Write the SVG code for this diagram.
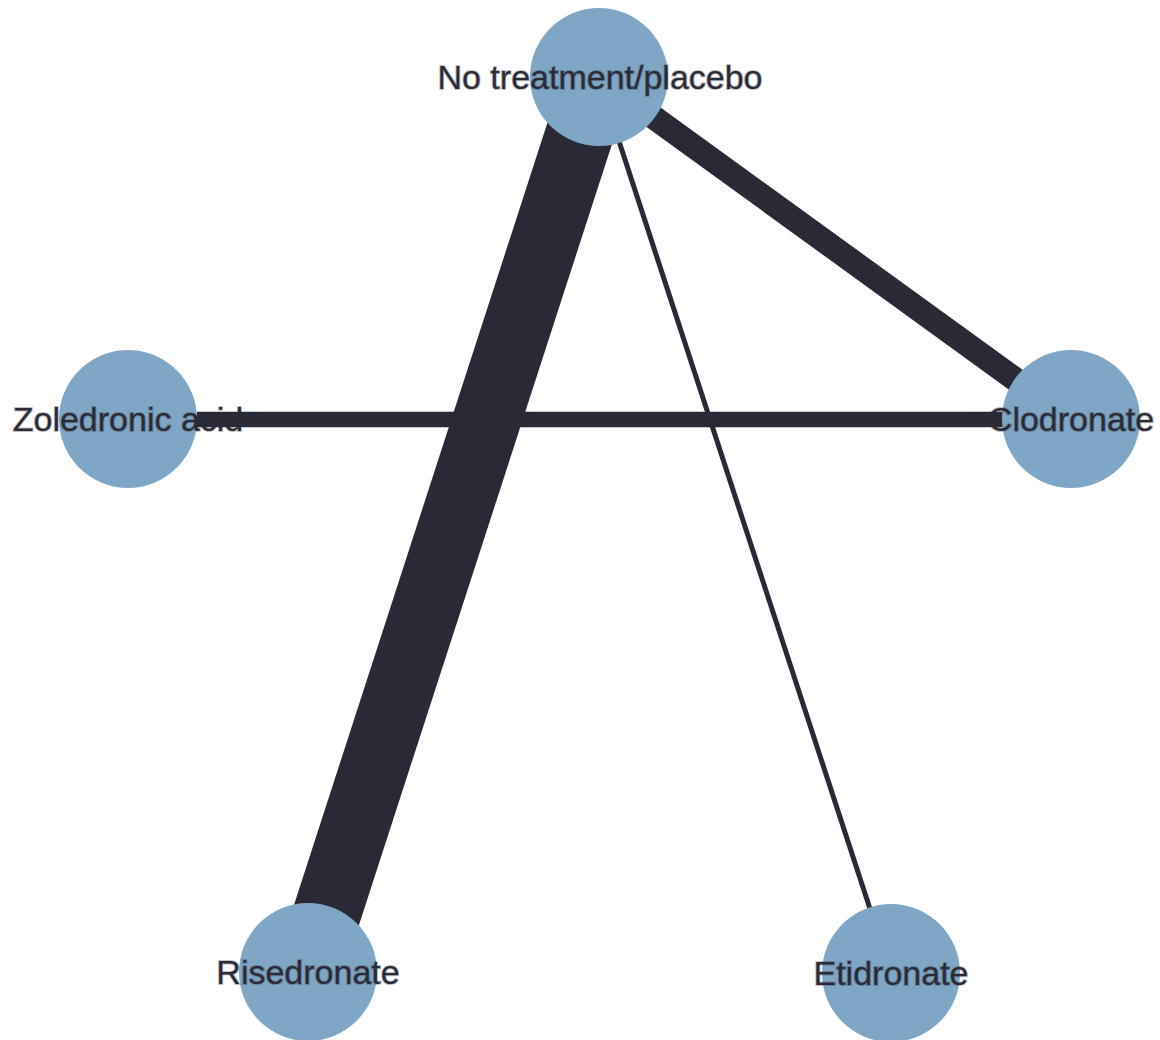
<svg xmlns="http://www.w3.org/2000/svg" width="1160" height="1040" viewBox="0 0 1160 1040">
<style>
.edge{stroke:#292a35;stroke-linecap:butt;fill:none}
.node circle{fill:#80a6c5}
.node text{font-family:"Liberation Sans",Arial,sans-serif;font-size:34px;fill:#2a2b36;text-anchor:middle;dominant-baseline:central;stroke:#2a2b36;stroke-opacity:0.3;stroke-width:2;paint-order:stroke}
</style>
<rect width="1160" height="1040" fill="#ffffff"/>
<g id="edges">
<line class="edge" x1="598" y1="77" x2="308" y2="972" stroke-width="68"/>
<line class="edge" x1="598" y1="77" x2="1070" y2="419" stroke-width="24"/>
<line class="edge" x1="598" y1="77" x2="891" y2="973" stroke-width="5"/>
<line class="edge" x1="197" y1="419.5" x2="1003" y2="419.5" stroke-width="15.5"/>
</g>
<g id="node-placebo" class="node"><circle cx="599" cy="77" r="69"/><text x="600" y="77">No treatment/placebo</text></g>
<g id="node-zoledronic" class="node"><circle cx="128" cy="419" r="69"/><text x="128" y="419">Zoledronic acid</text></g>
<g id="node-clodronate" class="node"><circle cx="1071" cy="419" r="69"/><text x="1071" y="419">Clodronate</text></g>
<g id="node-risedronate" class="node"><circle cx="308" cy="972" r="69"/><text x="308" y="972">Risedronate</text></g>
<g id="node-etidronate" class="node"><circle cx="891" cy="973" r="69"/><text x="891" y="973">Etidronate</text></g>
</svg>
